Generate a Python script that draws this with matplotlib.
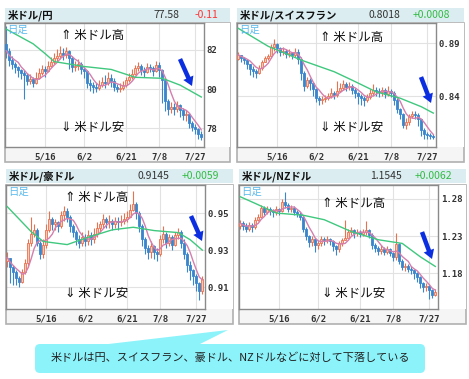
import numpy as np
import pandas as pd
import matplotlib
matplotlib.use("Agg")
import matplotlib.pyplot as plt
from matplotlib.patches import Rectangle, FancyBboxPatch, Polygon, FancyArrow

plt.rcParams["font.family"] = ["Noto Sans CJK JP", "DejaVu Sans"]

W, H = 469, 379

# ---- data ----
date_labels = ["5/16", "6/2", "6/21", "7/8", "7/27"]
date_pos = [13, 26, 40, 51, 63]

jpy_close = [81.95, 81.50, 81.30, 81.10, 80.95, 80.80, 80.70, 80.40, 80.50, 80.30,
             80.55, 80.80, 81.00, 80.90, 81.20, 81.40, 81.60, 81.70, 81.85, 81.75,
             81.95, 81.60, 81.10, 81.15, 81.30, 81.00, 80.90, 80.30, 80.20, 80.10,
             80.05, 80.20, 80.35, 80.30, 80.55, 80.40, 80.10, 80.00, 80.05, 80.20,
             80.45, 80.60, 80.75, 81.05, 81.20, 80.95, 80.85, 81.10, 81.05, 80.90,
             81.25, 80.95, 80.45, 79.40, 79.00, 79.10, 79.00, 79.20, 78.95, 78.70,
             78.75, 78.30, 78.10, 77.95, 77.70, 77.58]
jpy_high = [83.20, 82.10, 81.70, 81.40, 81.20, 81.00, 80.95, 80.80, 80.75, 80.60,
            80.85, 81.05, 81.25, 81.20, 81.45, 81.65, 81.85, 82.05, 82.20, 82.10,
            82.15, 82.00, 81.70, 81.45, 81.55, 81.40, 81.10, 80.95, 80.50, 80.35,
            80.30, 80.45, 80.60, 80.70, 80.85, 80.75, 80.55, 80.25, 80.30, 80.40,
            80.60, 80.80, 81.00, 81.25, 81.40, 81.30, 81.10, 81.35, 81.30, 81.20,
            81.45, 81.40, 81.00, 80.45, 79.50, 79.35, 79.30, 79.40, 79.25, 79.05,
            78.95, 78.80, 78.40, 78.25, 78.05, 77.85]
jpy_low = [81.60, 81.20, 81.00, 80.80, 80.60, 80.50, 79.50, 80.20, 80.25, 80.10,
           80.25, 80.50, 80.70, 80.60, 80.85, 81.10, 81.30, 81.45, 81.55, 81.50,
           81.60, 81.00, 80.85, 80.90, 80.95, 80.75, 80.55, 80.05, 79.90, 79.80,
           79.85, 79.95, 80.10, 80.05, 80.20, 80.10, 79.90, 79.85, 79.85, 79.95,
           80.10, 80.35, 80.50, 80.70, 80.90, 80.70, 80.60, 80.80, 80.85, 80.65,
           80.85, 80.60, 79.30, 78.90, 78.70, 78.80, 78.70, 78.85, 78.60, 78.45,
           78.40, 78.00, 77.85, 77.70, 77.45, 77.40]
jpy_ma25_x = [0, 9, 13, 16, 26, 35, 43, 52, 58, 65]
jpy_ma25 = [83.05, 82.3, 81.8, 81.4, 81.15, 81.0, 80.6, 80.55, 80.2, 79.6]

chf_close = [0.879, 0.876, 0.874, 0.870, 0.866, 0.864, 0.862, 0.867, 0.872, 0.876,
             0.878, 0.886, 0.889, 0.885, 0.882, 0.883, 0.880, 0.881, 0.879, 0.882,
             0.875, 0.862, 0.850, 0.855, 0.852, 0.847, 0.838, 0.836, 0.837,
             0.838, 0.840, 0.843, 0.841, 0.845, 0.848, 0.851, 0.849, 0.850,
             0.846, 0.843, 0.840, 0.838, 0.836, 0.839, 0.843, 0.846, 0.845, 0.844,
             0.846, 0.842, 0.845, 0.843,
             0.836, 0.828, 0.823, 0.813, 0.816, 0.821, 0.823, 0.822, 0.818,
             0.808, 0.804, 0.803, 0.8025, 0.8018]
chf_high = [0.882, 0.879, 0.877, 0.875, 0.870, 0.868, 0.866, 0.869, 0.874, 0.878,
            0.880, 0.889, 0.894, 0.890, 0.886, 0.886, 0.884, 0.884, 0.882, 0.885,
            0.884, 0.877, 0.864, 0.858, 0.857, 0.853, 0.848, 0.840, 0.840,
            0.841, 0.843, 0.848, 0.845, 0.854, 0.852, 0.855, 0.853, 0.853,
            0.851, 0.848, 0.844, 0.842, 0.840, 0.842, 0.847, 0.851, 0.849, 0.848,
            0.849, 0.848, 0.850, 0.847,
            0.845, 0.838, 0.829, 0.824, 0.819, 0.823, 0.826, 0.826, 0.824,
            0.818, 0.810, 0.806, 0.805, 0.804]
chf_low = [0.874, 0.872, 0.870, 0.866, 0.860, 0.858, 0.857, 0.861, 0.865, 0.872,
           0.874, 0.876, 0.883, 0.881, 0.878, 0.879, 0.876, 0.877, 0.875, 0.877,
           0.870, 0.855, 0.845, 0.848, 0.846, 0.840, 0.834, 0.832, 0.833,
           0.834, 0.836, 0.838, 0.837, 0.839, 0.844, 0.846, 0.845, 0.846,
           0.842, 0.838, 0.833, 0.832, 0.831, 0.834, 0.837, 0.840, 0.840, 0.839,
           0.840, 0.838, 0.840, 0.839,
           0.832, 0.824, 0.818, 0.810, 0.809, 0.813, 0.819, 0.818, 0.812,
           0.802, 0.800, 0.800, 0.800, 0.800]
chf_ma25_x = [0, 10, 21, 32, 38, 46, 54, 61, 65]
chf_ma25 = [0.904, 0.887, 0.874, 0.863, 0.855, 0.844, 0.838, 0.830, 0.824]

aud_close = [0.926, 0.921, 0.918, 0.915, 0.913, 0.918, 0.923, 0.934, 0.939, 0.941,
             0.934, 0.928, 0.933, 0.941, 0.947, 0.944, 0.945, 0.943, 0.949, 0.951,
             0.948, 0.943, 0.940, 0.936, 0.934, 0.937, 0.935, 0.938, 0.936, 0.939,
             0.942, 0.944, 0.947, 0.945, 0.946, 0.944, 0.946, 0.945, 0.946, 0.947,
             0.948, 0.952, 0.955, 0.950, 0.943, 0.936, 0.931, 0.929, 0.932, 0.929,
             0.928, 0.936, 0.939, 0.934, 0.937, 0.933, 0.938, 0.940, 0.934, 0.928,
             0.922, 0.919, 0.916, 0.912, 0.908, 0.9145]
aud_high = [0.929, 0.926, 0.922, 0.919, 0.916, 0.920, 0.925, 0.936, 0.948, 0.944,
            0.942, 0.935, 0.936, 0.944, 0.951, 0.948, 0.947, 0.946, 0.951, 0.954,
            0.953, 0.949, 0.944, 0.941, 0.938, 0.940, 0.939, 0.941, 0.940, 0.942,
            0.945, 0.946, 0.9495, 0.948, 0.949, 0.947, 0.948, 0.948, 0.949, 0.950,
            0.951, 0.955, 0.962, 0.956, 0.951, 0.944, 0.937, 0.933, 0.935, 0.933,
            0.931, 0.938, 0.943, 0.940, 0.939, 0.938, 0.940, 0.942, 0.941, 0.936,
            0.929, 0.924, 0.920, 0.917, 0.913, 0.916]
aud_low = [0.921, 0.912, 0.911, 0.911, 0.910, 0.912, 0.917, 0.921, 0.932, 0.937,
           0.932, 0.925, 0.926, 0.931, 0.940, 0.941, 0.941, 0.940, 0.942, 0.946,
           0.945, 0.940, 0.937, 0.933, 0.931, 0.932, 0.932, 0.933, 0.933, 0.934,
           0.937, 0.940, 0.942, 0.942, 0.942, 0.941, 0.942, 0.941, 0.943, 0.944,
           0.945, 0.949, 0.951, 0.947, 0.940, 0.932, 0.928, 0.925, 0.926, 0.925,
           0.924, 0.927, 0.934, 0.931, 0.932, 0.930, 0.932, 0.936, 0.931, 0.925,
           0.918, 0.914, 0.911, 0.908, 0.903, 0.906]
aud_ma25_x = [0, 8, 12, 20, 27, 35, 42, 49, 57, 61, 65]
aud_ma25 = [0.9536, 0.940, 0.9347, 0.933, 0.937, 0.941, 0.9424, 0.9406, 0.9395, 0.9356, 0.930]

nzd_close = [1.247, 1.243, 1.240, 1.245, 1.242, 1.252, 1.256, 1.268, 1.263, 1.266,
             1.264, 1.262, 1.266, 1.264, 1.276, 1.272, 1.266, 1.268, 1.263, 1.260,
             1.256, 1.240, 1.230, 1.222, 1.226, 1.218, 1.221, 1.226, 1.224, 1.226,
             1.223, 1.216, 1.212, 1.220, 1.225, 1.228, 1.236, 1.238, 1.234, 1.236,
             1.233, 1.235, 1.238, 1.232, 1.218, 1.214, 1.210, 1.213, 1.209, 1.212,
             1.207, 1.202, 1.219, 1.196, 1.188, 1.190, 1.186, 1.184, 1.180, 1.175,
             1.166, 1.161, 1.163, 1.157, 1.150, 1.1545]
nzd_high = [1.252, 1.250, 1.247, 1.249, 1.248, 1.255, 1.260, 1.272, 1.270, 1.270,
            1.269, 1.267, 1.270, 1.268, 1.280, 1.290, 1.274, 1.272, 1.270, 1.265,
            1.262, 1.258, 1.242, 1.232, 1.230, 1.228, 1.225, 1.230, 1.229, 1.230,
            1.228, 1.225, 1.218, 1.223, 1.228, 1.252, 1.240, 1.242, 1.240, 1.240,
            1.238, 1.239, 1.250, 1.240, 1.234, 1.220, 1.216, 1.218, 1.215, 1.216,
            1.214, 1.209, 1.234, 1.220, 1.199, 1.194, 1.192, 1.190, 1.186, 1.182,
            1.176, 1.168, 1.167, 1.165, 1.159, 1.158]
nzd_low = [1.240, 1.238, 1.235, 1.237, 1.236, 1.240, 1.250, 1.255, 1.258, 1.260,
           1.258, 1.256, 1.259, 1.259, 1.262, 1.268, 1.262, 1.262, 1.258, 1.255,
           1.252, 1.235, 1.224, 1.215, 1.217, 1.209, 1.212, 1.216, 1.218, 1.220,
           1.218, 1.210, 1.205, 1.208, 1.217, 1.224, 1.230, 1.232, 1.228, 1.230,
           1.229, 1.230, 1.232, 1.228, 1.212, 1.208, 1.205, 1.206, 1.204, 1.206,
           1.203, 1.196, 1.198, 1.192, 1.184, 1.183, 1.182, 1.179, 1.172, 1.168,
           1.160, 1.155, 1.156, 1.145, 1.146, 1.149]
nzd_ma25_x = [0, 5, 12, 21, 28, 37, 46, 54, 60, 65]
nzd_ma25 = [1.283, 1.274, 1.261, 1.258, 1.252, 1.236, 1.225, 1.220, 1.202, 1.189]

panels = [
    dict(name="米ドル/円", last="77.58", chg="-0.11", up=False,
         close=jpy_close, high=jpy_high, low=jpy_low, open0=82.30,
         ma_x=jpy_ma25_x, ma=jpy_ma25, ylim=(77.06, 83.36),
         yticks=[82, 80, 78], ylabels=["82", "80", "78"],
         header=(5, 8, 230, 22), frame=(5, 23, 230, 162), plot=(5, 23, 204, 147),
         val_x=179, chg_x=218, arrow=((180, 59), (192, 86)), note=(93, 36, 127)),
    dict(name="米ドル/スイスフラン", last="0.8018", chg="+0.0008", up=True,
         close=chf_close, high=chf_high, low=chf_low, open0=0.875,
         ma_x=chf_ma25_x, ma=chf_ma25, ylim=(0.792, 0.909),
         yticks=[0.89, 0.84], ylabels=["0.89", "0.84"],
         header=(237, 8, 464, 22), frame=(237, 23, 464, 162), plot=(237, 23, 436, 147),
         val_x=400, chg_x=450, arrow=((421, 77), (431, 103)), note=(352, 37, 128)),
    dict(name="米ドル/豪ドル", last="0.9145", chg="+0.0059", up=True,
         close=aud_close, high=aud_high, low=aud_low, open0=0.924,
         ma_x=aud_ma25_x, ma=aud_ma25, ylim=(0.8981, 0.9653),
         yticks=[0.95, 0.93, 0.91], ylabels=["0.95", "0.93", "0.91"],
         header=(6, 169, 233, 183), frame=(6, 185, 233, 324), plot=(6, 185, 205, 309),
         val_x=169, chg_x=219, arrow=((191, 216), (202, 241)), note=(97, 197, 293)),
    dict(name="米ドル/NZドル", last="1.1545", chg="+0.0062", up=True,
         close=nzd_close, high=nzd_high, low=nzd_low, open0=1.244,
         ma_x=nzd_ma25_x, ma=nzd_ma25, ylim=(1.1316, 1.2988),
         yticks=[1.28, 1.23, 1.18], ylabels=["1.28", "1.23", "1.18"],
         header=(239, 169, 466, 183), frame=(239, 185, 466, 324), plot=(239, 185, 438, 309),
         val_x=402, chg_x=452, arrow=((422, 232), (432, 259)), note=(354, 203, 294)),
]


def rect(x0, y0, x1, y1):
    return [x0 / W, 1 - y1 / H, (x1 - x0) / W, (y1 - y0) / H]


fig = plt.figure(figsize=(W / 100, H / 100), dpi=100, facecolor="white")

bg = fig.add_axes([0, 0, 1, 1], zorder=-1)
bg.set_xlim(0, W)
bg.set_ylim(H, 0)
bg.axis("off")

ov = fig.add_axes([0, 0, 1, 1], zorder=10)
ov.set_xlim(0, W)
ov.set_ylim(H, 0)
ov.axis("off")
ov.patch.set_alpha(0)

for p in panels:
    hx0, hy0, hx1, hy1 = p["header"]
    bg.add_patch(Rectangle((hx0, hy0), hx1 - hx0, hy1 - hy0, facecolor="#dbedf0", edgecolor="none"))
    fx0, fy0, fx1, fy1 = p["frame"]
    bg.add_patch(Rectangle((fx0, fy0), fx1 - fx0, fy1 - fy0, facecolor="#f5f5f5",
                           edgecolor="#b0b0b0", linewidth=1.2))
    px0, py0, px1, py1 = p["plot"]
    bg.add_patch(Rectangle((px1, py0), fx1 - px1, py1 - py0, facecolor="white", edgecolor="none"))
    hy = (hy0 + hy1) / 2
    bg.text(hx0 + 3, hy, p["name"], fontsize=7.5, fontweight="bold", color="#111111",
            va="center", ha="left")
    bg.text(p["val_x"], hy, p["last"], fontsize=7.5, color="#333333", va="center", ha="right")
    bg.text(p["chg_x"], hy, p["chg"], fontsize=7.5, color="#33bb44" if p["up"] else "#ff3333",
            va="center", ha="right")

    ax = fig.add_axes(rect(px0, py0, px1, py1))
    close = np.array(p["close"])
    opn = np.concatenate([[p["open0"]], close[:-1]])
    high = np.array(p["high"])
    low = np.array(p["low"])
    x = np.arange(len(close))
    rise = close >= opn
    ax.vlines(x[rise], low[rise], high[rise], color="#e8714f", linewidth=0.8, zorder=2)
    ax.vlines(x[~rise], low[~rise], high[~rise], color="#3a86cc", linewidth=0.8, zorder=2)
    span = p["ylim"][1] - p["ylim"][0]
    body = np.maximum(np.abs(close - opn), span * 0.006)
    bottom = np.minimum(close, opn)
    ax.bar(x[rise], body[rise], bottom=bottom[rise], width=0.7, facecolor="#f9c9b8",
           edgecolor="#e8714f", linewidth=0.6, zorder=3)
    ax.bar(x[~rise], body[~rise], bottom=bottom[~rise], width=0.7, facecolor="#3a86cc",
           edgecolor="#3a86cc", linewidth=0.6, zorder=3)
    ma5 = pd.Series(close).rolling(5, min_periods=1).mean()
    ax.plot(x, ma5, color="#d47fae", linewidth=1.0, zorder=4)
    ax.plot(p["ma_x"], p["ma"], color="#3fc87e", linewidth=1.0, zorder=4)

    ax.set_xlim(-0.4, len(close) - 0.1)
    ax.set_ylim(*p["ylim"])
    ax.set_yticks(p["yticks"])
    ax.set_yticklabels(p["ylabels"])
    ax.yaxis.tick_right()
    ax.set_xticks(date_pos)
    ax.set_xticklabels(date_labels)
    ax.tick_params(length=0, labelsize=6.5, colors="#333333")
    ax.tick_params(axis="x", pad=4)
    ax.tick_params(axis="y", pad=2)
    for lab in ax.get_xticklabels() + ax.get_yticklabels():
        lab.set_family("DejaVu Sans Mono")
        lab.set_fontweight("bold")
    ax.grid(True, color="#e2e2e2", linewidth=0.8)
    ax.set_axisbelow(True)
    for s in ax.spines.values():
        s.set_color("#8a8a8a")
        s.set_linewidth(1.0)

    nx, ny_top, ny_bot = p["note"]
    ov.text(px0 + 2, py0 + 2, "日足", fontsize=7.5, color="#5cbbee", ha="left", va="top")
    ov.text(nx, ny_top, "⇑ 米ドル高", fontsize=9, color="#111111", ha="center", va="center")
    ov.text(nx, ny_bot, "⇓ 米ドル安", fontsize=9, color="#111111", ha="center", va="center")
    (ax0, ay0), (ax1, ay1) = p["arrow"]
    ov.add_patch(FancyArrow(ax0, ay0, ax1 - ax0, ay1 - ay0, width=4.5, head_width=11,
                            head_length=9, length_includes_head=True,
                            facecolor="#0b2fe0", edgecolor="none"))

# callout
callout = "#8cf3fb"
ov.add_patch(Polygon([(228, 330), (100, 345), (198, 345)], closed=True,
                     facecolor=callout, edgecolor="none"))
ov.add_patch(FancyBboxPatch((39, 348), 382, 21, boxstyle="round,pad=4,rounding_size=5",
                            facecolor=callout, edgecolor="none"))
ov.text(230, 358, "米ドルは円、スイスフラン、豪ドル、NZドルなどに対して下落している",
        fontsize=8, color="#222222", ha="center", va="center")

fig.savefig("out.png", dpi=100)
